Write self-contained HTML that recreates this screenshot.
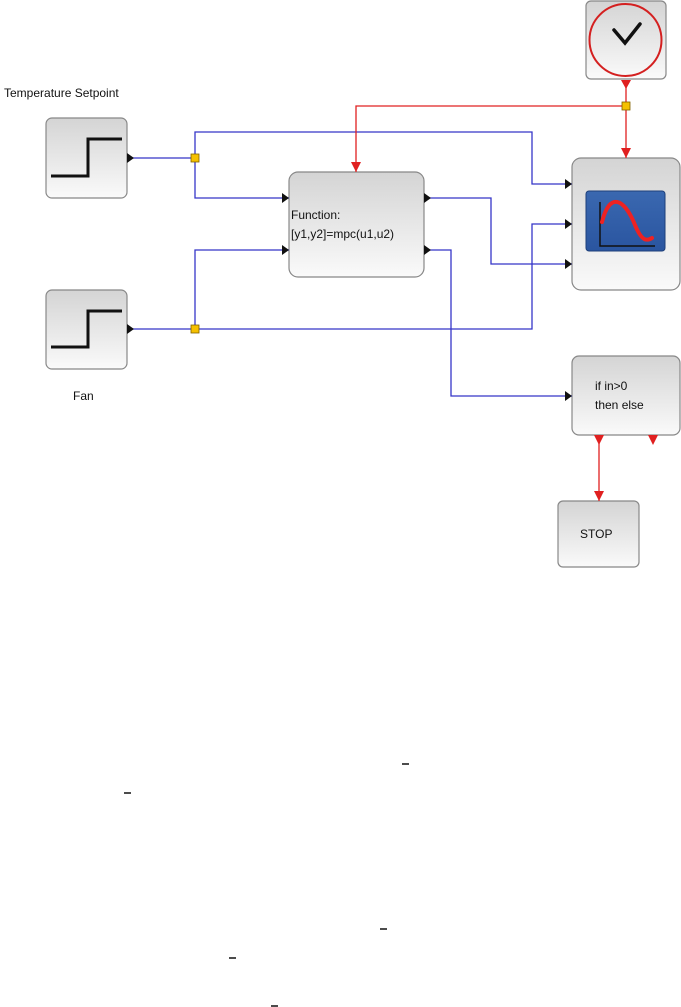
<!DOCTYPE html>
<html><head><meta charset="utf-8"><style>
body{margin:0;background:#fff;width:681px;height:1007px;overflow:hidden}
svg{display:block}
text{font-family:"Liberation Sans",sans-serif;font-size:12px;fill:#111}
</style></head><body>
<svg width="681" height="1007" viewBox="0 0 681 1007" xmlns="http://www.w3.org/2000/svg">
<defs>
<linearGradient id="g" x1="0" y1="0" x2="0" y2="1"><stop offset="0" stop-color="#d4d4d4"/><stop offset="1" stop-color="#fafafa"/></linearGradient>
<linearGradient id="b" x1="0" y1="0" x2="0" y2="1"><stop offset="0" stop-color="#3a68b0"/><stop offset="1" stop-color="#2a55a0"/></linearGradient>
</defs>
<g stroke="#888" stroke-width="1.2" fill="url(#g)">
<rect x="46" y="118" width="81" height="80" rx="6"/>
<rect x="46" y="290" width="81" height="79" rx="6"/>
<rect x="586" y="1" width="80" height="78" rx="5"/>
<rect x="289" y="172" width="135" height="105" rx="9"/>
<rect x="572" y="158" width="108" height="132" rx="9"/>
<rect x="572" y="356" width="108" height="79" rx="7"/>
<rect x="558" y="501" width="81" height="66" rx="5"/>
</g>
<path d="M51 176H88V139H122M51 347H88V311H122" stroke="#111" stroke-width="3" fill="none"/>
<ellipse cx="625.5" cy="40" rx="36" ry="36" fill="none" stroke="#d42020" stroke-width="2"/>
<path d="M614 30L625 43L640 24" stroke="#111" stroke-width="3.5" fill="none" stroke-linecap="round"/>
<rect x="586" y="191" width="79" height="60" rx="3" fill="url(#b)" stroke="#1d3f7a"/>
<path d="M600 202V246H655" stroke="#111" stroke-width="1.5" fill="none"/>
<path d="M602 222C610 190 625 200 635 225C642 242 647 241 652 238" stroke="#e22" stroke-width="4" fill="none" stroke-linecap="round"/>
<g stroke="#3535c8" stroke-width="1.3" fill="none">
<path d="M127 158H195V132H532V184H572"/>
<path d="M195 158V198H289"/>
<path d="M127 329H532V224H572"/>
<path d="M195 329V250H289"/>
<path d="M424 198H491V264H572"/>
<path d="M424 250H451V396H572"/>
</g>
<g stroke="#e02020" stroke-width="1.3" fill="none">
<path d="M626 80V158"/><path d="M626 106H356V172"/><path d="M599 435V501"/>
</g>
<g fill="#e02020">
<path d="M621 80h10l-5 9z"/><path d="M621 148h10l-5 10z"/><path d="M351 162h10l-5 10z"/>
<path d="M594 435h10l-5 10z"/><path d="M648 435h10l-5 10z"/><path d="M594 491h10l-5 10z"/>
</g>
<g fill="#111">
<path d="M127 153l7 5l-7 5z"/><path d="M127 324l7 5l-7 5z"/>
<path d="M282 193l7 5l-7 5z"/><path d="M282 245l7 5l-7 5z"/>
<path d="M424 193l7 5l-7 5z"/><path d="M424 245l7 5l-7 5z"/>
<path d="M565 179l7 5l-7 5z"/><path d="M565 219l7 5l-7 5z"/><path d="M565 259l7 5l-7 5z"/>
<path d="M565 391l7 5l-7 5z"/>
</g>
<g fill="#f5c000" stroke="#806000" stroke-width="0.8">
<rect x="191" y="154" width="8" height="8"/><rect x="191" y="325" width="8" height="8"/><rect x="622" y="102" width="8" height="8"/>
</g>
<text x="4" y="97">Temperature Setpoint</text>
<text x="73" y="400">Fan</text>
<text x="291" y="219">Function:</text>
<text x="291" y="238">[y1,y2]=mpc(u1,u2)</text>
<text x="595" y="390">if in&gt;0</text>
<text x="595" y="409">then else</text>
<text x="580" y="538">STOP</text>
<g stroke="#111" stroke-width="1.5">
<path d="M402 764h7M124 793h7M380 929h7M229 958h7M271 1006h7"/>
</g>
</svg>
</body></html>
